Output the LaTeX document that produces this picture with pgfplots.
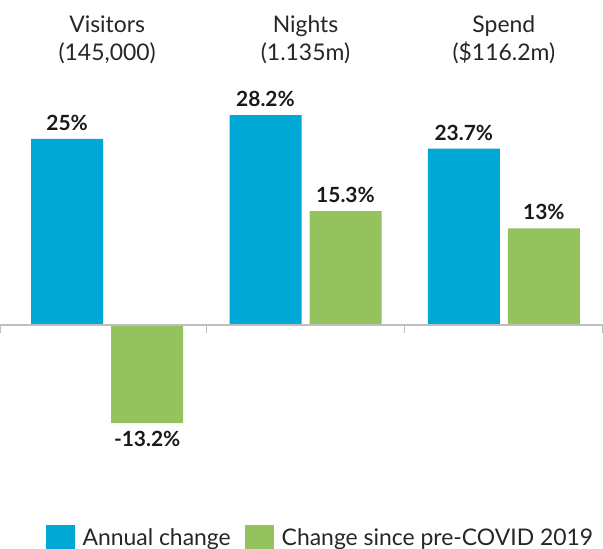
\documentclass[border=0pt]{standalone}
\usepackage{fontspec}
\setmainfont{Lato}
\usepackage{pgfplots}
\pgfplotsset{compat=1.18}
\definecolor{annual}{RGB}{0,168,214}
\definecolor{precovid}{RGB}{148,195,94}
\definecolor{axisgray}{RGB}{190,190,190}
\begin{document}
\begin{tikzpicture}
\begin{axis}[
    width=603bp, height=549bp, scale only axis,
    xmin=-0.5403, xmax=2.5, ymin=-30.11, ymax=43.68,
    axis line style={draw=none}, ticks=none,
    ybar=8bp, bar width=72bp,
    clip=false,
    point meta=y,
    nodes near coords={\pgfmathprintnumber[assume math mode=true]{\pgfplotspointmeta}\%},
    nodes near coords style={font=\bfseries\fontsize{21}{24}\selectfont, text=black!90, inner sep=8bp},
    legend columns=2,
    legend style={at={(axis cs:1.075,-28.6)}, anchor=center, draw=none, fill=none,
        font=\fontsize{23}{26}\selectfont, text=black!85,
        /tikz/every even column/.append style={column sep=12bp}},
    legend image code/.code={\fill[#1] (0bp,-12.5bp) rectangle (29bp,12.5bp); \path (35bp,0bp);},
]
\addplot[fill=annual, draw=none] coordinates {(0,25) (1,28.2) (2,23.7)};
\addplot[fill=precovid, draw=none] coordinates {(0,-13.2) (1,15.3) (2,13)};
\legend{Annual change, Change since pre-COVID 2019}
\draw[axisgray, line width=1.2bp] (axis cs:-0.5403,0) -- (axis cs:2.5,0);
\draw[axisgray, line width=1.2bp] (axis cs:-0.5403,0) -- (axis cs:-0.5403,-1.075);
\draw[axisgray, line width=1.2bp] (axis cs:0.5,0) -- (axis cs:0.5,-1.075);
\draw[axisgray, line width=1.2bp] (axis cs:1.5,0) -- (axis cs:1.5,-1.075);
\draw[axisgray, line width=1.2bp] (axis cs:2.5,0) -- (axis cs:2.5,-1.075);
\node[align=center, text=black!85, font=\fontsize{23}{28}\selectfont] at (axis cs:0,38.3) {Visitors\\(145,000)};
\node[align=center, text=black!85, font=\fontsize{23}{28}\selectfont] at (axis cs:1,38.3) {Nights\\(1.135m)};
\node[align=center, text=black!85, font=\fontsize{23}{28}\selectfont] at (axis cs:2,38.3) {Spend\\(\$116.2m)};
\end{axis}
\pgfresetboundingbox
\path[use as bounding box] (current axis.south west) rectangle (current axis.north east);
\end{tikzpicture}
\end{document}
